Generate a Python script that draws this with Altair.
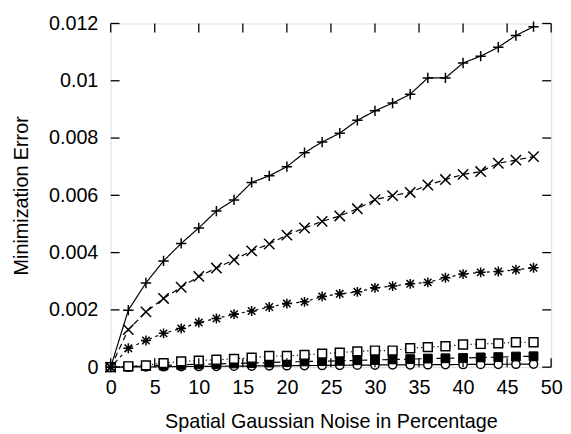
import altair as alt
import pandas as pd

noise = [0, 2, 4, 6, 8, 10, 12, 14, 16, 18, 20, 22, 24, 26, 28, 30, 32, 34, 36, 38, 40, 42, 44, 46, 48]

plus_series = [0, 0.00199, 0.00294, 0.00371, 0.00432, 0.00486, 0.00545, 0.00584, 0.00645, 0.00668,
               0.00700, 0.00749, 0.00786, 0.00817, 0.00862, 0.00895, 0.00922, 0.00953, 0.01010, 0.01010,
               0.01062, 0.01086, 0.01117, 0.01158, 0.01189]
cross_series = [0, 0.00131, 0.00193, 0.00240, 0.00279, 0.00317, 0.00346, 0.00375, 0.00406, 0.00430,
                0.00461, 0.00486, 0.00509, 0.00528, 0.00553, 0.00585, 0.00599, 0.00610, 0.00636, 0.00655,
                0.00673, 0.00683, 0.00712, 0.00723, 0.00735]
star_series = [0, 0.00066, 0.00093, 0.00118, 0.00135, 0.00156, 0.00170, 0.00185, 0.00196, 0.00210,
               0.00222, 0.00228, 0.00247, 0.00256, 0.00263, 0.00277, 0.00283, 0.00291, 0.00296, 0.00312,
               0.00325, 0.00331, 0.00334, 0.00340, 0.00347]
open_square_series = [0, 0.00003, 0.00006, 0.00014, 0.00020, 0.00023, 0.00026, 0.00029, 0.00033, 0.00039,
                      0.00039, 0.00043, 0.00047, 0.00051, 0.00055, 0.00058, 0.00058, 0.00066, 0.00070, 0.00073,
                      0.00079, 0.00081, 0.00083, 0.00087, 0.00087]
filled_square_series = [0, 0.00002, 0.00004, 0.00006, 0.00008, 0.00010, 0.00011, 0.00013, 0.00014, 0.00016,
                        0.00018, 0.00020, 0.00021, 0.00022, 0.00024, 0.00025, 0.00027, 0.00028, 0.00030, 0.00031,
                        0.00032, 0.00034, 0.00035, 0.00037, 0.00038]
circle_series = [0, 0.000005, 0.00001, 0.000015, 0.00002, 0.000025, 0.00003, 0.000035, 0.00004, 0.000045,
                 0.00005, 0.000055, 0.00006, 0.000065, 0.00007, 0.000075, 0.00008, 0.000083, 0.000086, 0.00009,
                 0.000093, 0.000096, 0.0001, 0.000103, 0.000106]

x_ticks = [0, 5, 10, 15, 20, 25, 30, 35, 40, 45, 50]
y_ticks = [0, 0.002, 0.004, 0.006, 0.008, 0.010, 0.012]

W, H = 446, 348
FONT = "Liberation Sans"
FS = 20

xscale = alt.Scale(domain=[0, 50], nice=False, zero=False)
yscale = alt.Scale(domain=[0, 0.012], nice=False)
xaxis = alt.Axis(values=x_ticks, format="d", title="Spatial Gaussian Noise in Percentage",
                 ticks=False, tickSize=0, domain=False, grid=False, labelPadding=11,
                 labelFontSize=FS, titleFontSize=FS, titlePadding=14, labelFont=FONT, titleFont=FONT,
                 titleFontWeight="normal", labelColor="black", titleColor="black", labelFlush=False)
yaxis = alt.Axis(values=y_ticks, labelExpr="datum.value == 0 ? '0' : format(datum.value, '.3~f')",
                 title="Minimization Error",
                 ticks=False, tickSize=0, domain=False, grid=False, labelPadding=13,
                 labelFontSize=FS, titleFontSize=FS, titlePadding=17, labelFont=FONT, titleFont=FONT,
                 titleFontWeight="normal", labelColor="black", titleColor="black", labelFlush=False)


def X(field="x"):
    return alt.X(f"{field}:Q", scale=xscale, axis=xaxis)


def Y(field="y"):
    return alt.Y(f"{field}:Q", scale=yscale, axis=yaxis)


PLUS = "M-1,0L1,0M0,-1L0,1"
CROSS = "M-1,-1L1,1M-1,1L1,-1"
STAR = "M-1,0L1,0M0,-1L0,1M-0.75,-0.75L0.75,0.75M-0.75,0.75L0.75,-0.75"

series_specs = [
    (circle_series, "circle", False, 70, [1, 0]),
    (filled_square_series, "square", True, 80, [7, 4]),
    (open_square_series, "square", False, 80, [1.2, 3]),
    (star_series, STAR, False, 100, [3, 4]),
    (cross_series, CROSS, False, 110, [6, 4]),
    (plus_series, PLUS, False, 110, [1, 0]),
]

layers = []
for vals, shape, filled, size, dash in series_specs:
    df = pd.DataFrame({"x": noise, "y": vals})
    base = alt.Chart(df)
    layers.append(base.mark_line(color="black", strokeWidth=1.2, strokeDash=dash).encode(x=X(), y=Y()))
    if filled:
        pt = base.mark_point(shape=shape, filled=True, fill="black", stroke="black",
                             strokeWidth=1, size=size, opacity=1)
    elif shape in ("square", "circle"):
        pt = base.mark_point(shape=shape, filled=False, stroke="black", fill="white",
                             strokeWidth=1.5, size=size, opacity=1)
    else:
        pt = base.mark_point(shape=shape, filled=False, stroke="black",
                             strokeWidth=1.5, size=size, opacity=1)
    layers.append(pt.encode(x=X(), y=Y()))

xt = alt.Chart(pd.DataFrame({"x": x_ticks}))
yt = alt.Chart(pd.DataFrame({"y": y_ticks}))
TL = 9
layers.append(xt.mark_rule(color="black", strokeWidth=1.3).encode(x=X(), y=alt.value(H), y2=alt.value(H - TL)))
layers.append(xt.mark_rule(color="black", strokeWidth=1.3).encode(x=X(), y=alt.value(0), y2=alt.value(TL)))
layers.append(yt.mark_rule(color="black", strokeWidth=1.3).encode(y=Y(), x=alt.value(0), x2=alt.value(TL)))
layers.append(yt.mark_rule(color="black", strokeWidth=1.3).encode(y=Y(), x=alt.value(W), x2=alt.value(W - TL)))

chart = alt.layer(*layers).properties(
    width=W, height=H,
    autosize=alt.AutoSizeParams(type="none"),
    padding={"left": 104, "top": 13, "right": 12, "bottom": 65},
).configure_view(stroke="black", strokeWidth=1.6).configure(background="white")

chart.save("out.html", embed_options={"renderer": "svg", "actions": False})
